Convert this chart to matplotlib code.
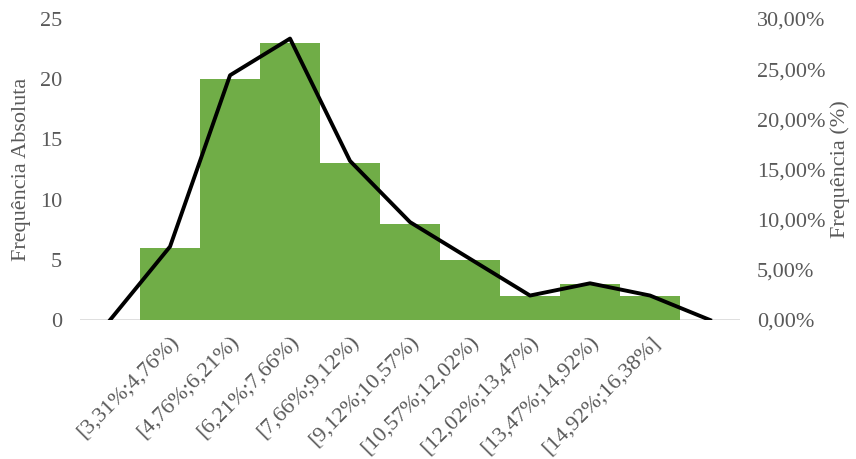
import matplotlib
matplotlib.use("Agg")
import matplotlib.pyplot as plt
from matplotlib.ticker import FuncFormatter

# classes e frequências absolutas
classes = ["[3,31%;4,76%)", "[4,76%;6,21%)", "[6,21%;7,66%)", "[7,66%;9,12%)",
           "[9,12%;10,57%)", "[10,57%;12,02%)", "[12,02%;13,47%)",
           "[13,47%;14,92%)", "[14,92%;16,38%]"]
freq_abs = [6, 20, 23, 13, 8, 5, 2, 3, 2]

total = sum(freq_abs)
# polígono de frequências: zero antes da primeira e depois da última classe
freq_rel = [0] + [100.0 * f / total for f in freq_abs] + [0]
x_poligono = list(range(-1, len(freq_abs) + 1))

plt.rcParams['font.family'] = ['Liberation Serif', 'DejaVu Serif']
cinza = '#595959'
tam = 16

figura = plt.figure(figsize=(8.56, 4.59), dpi=100)
ax = figura.add_axes([0.0935, 0.3028, 0.771, 0.6558])
ax2 = ax.twinx()

x = range(len(freq_abs))
ax.bar(x, freq_abs, width=1.0, color='#70AD47', zorder=2)
ax.set_ylim(0, 25)
ax.set_yticks(range(0, 26, 5))
ax.set_xlim(-1.5, len(freq_abs) + 0.5)
ax.set_xticks(list(x))
ax.set_xticklabels(classes, rotation=45, ha='right', rotation_mode='anchor')
ax.set_ylabel('Frequência Absoluta', color=cinza, fontsize=tam, labelpad=6)

ax2.plot(x_poligono, freq_rel, color='black', linewidth=2.8, zorder=3)
ax2.set_ylim(0, 30)
ax2.set_yticks(range(0, 31, 5))
ax2.yaxis.set_major_formatter(FuncFormatter(lambda v, p: ('%.2f%%' % v).replace('.', ',')))
ax2.set_ylabel('Frequência (%)', color=cinza, fontsize=tam, labelpad=4)

for eixo in (ax, ax2):
    for lado in eixo.spines:
        eixo.spines[lado].set_visible(False)
    eixo.tick_params(length=0, labelsize=tam, colors=cinza)
ax.tick_params(axis='x', pad=9)
ax.tick_params(axis='y', pad=13)
ax2.tick_params(axis='y', pad=12)
ax.axhline(0, color='#D9D9D9', linewidth=1.2, zorder=1)

figura.savefig('out.png')
